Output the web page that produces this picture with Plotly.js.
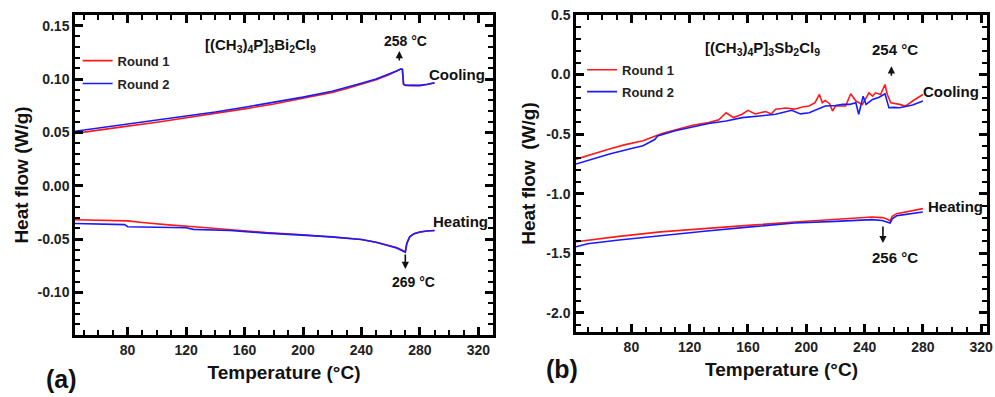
<!DOCTYPE html>
<html>
<head>
<meta charset="utf-8">
<script src="https://cdn.plot.ly/plotly-3.0.1.min.js"></script>
<style>html,body{margin:0;padding:0;background:#fff;}#chart{width:995px;height:397px;}</style>
</head>
<body>
<div id="chart"></div>
<script>
// ---------- Panel (a): [(CH3)4P]3Bi2Cl9 ----------
var aCoolT  = [44, 60, 80, 100, 120, 140, 160, 180, 200, 220, 230, 240, 250, 258, 264, 267, 268, 268.8, 270, 275, 280, 285, 290];
var aCoolR1 = [0.0490, 0.0522, 0.0558, 0.0594, 0.0634, 0.0675, 0.0720, 0.0766, 0.0817, 0.0873, 0.0910, 0.0952, 0.0993, 0.1035, 0.1072, 0.1093, 0.1088, 0.0950, 0.0940, 0.0938, 0.0938, 0.0948, 0.0963];
var aCoolR2 = [0.0510, 0.0540, 0.0575, 0.0610, 0.0650, 0.0690, 0.0735, 0.0780, 0.0830, 0.0885, 0.0920, 0.0960, 0.1000, 0.1040, 0.1075, 0.1095, 0.1090, 0.0950, 0.0942, 0.0940, 0.0940, 0.0950, 0.0965];
var aHeatT_R1 = [44, 60, 80, 90, 100, 110, 130, 150, 175, 200, 220, 240, 250, 258, 264, 268, 270, 271, 273, 276, 280, 285, 290];
var aHeatR1   = [-0.0320, -0.0325, -0.0330, -0.0345, -0.0360, -0.0370, -0.0390, -0.0415, -0.0440, -0.0460, -0.0480, -0.0505, -0.0530, -0.0555, -0.0580, -0.0605, -0.0620, -0.0540, -0.0480, -0.0450, -0.0435, -0.0425, -0.0420];
var aHeatT_R2 = [44, 60, 78, 80, 100, 120, 125, 150, 175, 200, 220, 240, 250, 258, 264, 268, 270, 271, 273, 276, 280, 285, 290];
var aHeatR2   = [-0.0355, -0.0360, -0.0365, -0.0385, -0.0390, -0.0395, -0.0410, -0.0420, -0.0445, -0.0465, -0.0480, -0.0505, -0.0530, -0.0560, -0.0585, -0.0610, -0.0625, -0.0545, -0.0480, -0.0450, -0.0435, -0.0425, -0.0420];
var aYTickVals = [0.15, 0.10, 0.05, 0.00, -0.05, -0.10];
var aYTickText = ["0.15", "0.10", "0.05", "0.00", "-0.05", "-0.10"];

// ---------- Panel (b): [(CH3)4P]3Sb2Cl9 ----------
var bCoolT_R1 = [42, 55, 65, 75, 88, 101, 110, 122, 133, 140, 145, 150, 156, 160, 165, 172, 176, 179, 186, 192, 198, 202, 206, 209, 211, 213, 216, 218, 220, 227, 230.5, 234, 238.5, 243, 245.5, 247.5, 251, 254, 255.6, 258, 264, 268, 273, 280];
var bCoolR1   = [-0.71, -0.66, -0.625, -0.59, -0.556, -0.495, -0.467, -0.425, -0.403, -0.38, -0.32, -0.36, -0.333, -0.30, -0.33, -0.31, -0.33, -0.29, -0.28, -0.29, -0.27, -0.264, -0.236, -0.167, -0.236, -0.217, -0.244, -0.306, -0.264, -0.264, -0.161, -0.222, -0.25, -0.153, -0.18, -0.153, -0.167, -0.083, -0.167, -0.236, -0.25, -0.264, -0.222, -0.167];
var bCoolT_R2 = [42, 55, 65, 80, 88, 96, 98, 110, 122, 133, 145, 156, 168, 179, 190, 196, 202, 208, 213, 220, 225, 230, 234, 236, 239, 241, 245.5, 250, 254, 256.7, 260, 264, 268, 273, 280];
var bCoolR2   = [-0.75, -0.70, -0.667, -0.62, -0.597, -0.545, -0.515, -0.472, -0.44, -0.41, -0.389, -0.361, -0.347, -0.333, -0.30, -0.33, -0.32, -0.29, -0.264, -0.26, -0.25, -0.25, -0.236, -0.333, -0.181, -0.25, -0.208, -0.19, -0.161, -0.278, -0.275, -0.278, -0.27, -0.256, -0.222];
var bHeatT  = [42, 50, 70, 100, 130, 160, 192, 220, 245, 252, 255, 257.5, 259, 262, 266, 270, 275, 280];
var bHeatR1 = [-1.403, -1.39, -1.36, -1.32, -1.29, -1.265, -1.237, -1.215, -1.195, -1.20, -1.21, -1.228, -1.19, -1.167, -1.158, -1.15, -1.138, -1.125];
var bHeatR2 = [-1.445, -1.42, -1.39, -1.35, -1.315, -1.28, -1.245, -1.232, -1.217, -1.225, -1.235, -1.245, -1.21, -1.185, -1.177, -1.17, -1.162, -1.153];
var bYTickVals = [0.5, 0.0, -0.5, -1.0, -1.5, -2.0];
var bYTickText = ["0.5", "0.0", "-0.5", "-1.0", "-1.5", "-2.0"];

var seriesNames = ["Round 1", "Round 2"];
var RED = "#ff1a1a", BLUE = "#1a1aff";
var FONT = "Liberation Sans, Arial, sans-serif";

function tr(x, y, idx, color, xa, ya, lg, show) {
  return {x: x, y: y, name: seriesNames[idx], type: "scatter", mode: "lines",
          line: {color: color, width: 1.6}, xaxis: xa, yaxis: ya,
          legend: lg, legendgroup: lg + "_" + idx, showlegend: show, hoverinfo: "skip"};
}
var data = [
  tr(aCoolT, aCoolR1, 0, RED, "x", "y", "legend", true),
  tr(aCoolT, aCoolR2, 1, BLUE, "x", "y", "legend", true),
  tr(aHeatT_R1, aHeatR1, 0, RED, "x", "y", "legend", false),
  tr(aHeatT_R2, aHeatR2, 1, BLUE, "x", "y", "legend", false),
  tr(bCoolT_R1, bCoolR1, 0, RED, "x2", "y2", "legend2", true),
  tr(bCoolT_R2, bCoolR2, 1, BLUE, "x2", "y2", "legend2", true),
  tr(bHeatT, bHeatR1, 0, RED, "x2", "y2", "legend2", false),
  tr(bHeatT, bHeatR2, 1, BLUE, "x2", "y2", "legend2", false)
];
function tickFont() { return {family: FONT, size: 14, color: "#222", weight: "bold"}; }
function titleFont() { return {family: FONT, size: 19, color: "#111", weight: "bold"}; }
function xAxis(domain, range, anchor) {
  return {domain: domain, range: range, anchor: anchor, tickmode: "linear", dtick: 40, tick0: 0,
    showline: true, linewidth: 2.5, linecolor: "#000", mirror: "allticks",
    ticks: "inside", ticklen: 8, tickwidth: 2.5, tickcolor: "#000",
    minor: {dtick: 10, ticks: "inside", ticklen: 5, tickwidth: 2, tickcolor: "#000"},
    showgrid: false, zeroline: false, tickfont: tickFont(),
    title: {text: "Temperature (°C)", font: titleFont(), standoff: 10}};
}
function yAxis(domain, range, anchor, tv, tt, minorD, titleText, so) {
  return {domain: domain, range: range, anchor: anchor,
    tickmode: "array", tickvals: tv, ticktext: tt,
    showline: true, linewidth: 2.5, linecolor: "#000", mirror: "allticks",
    ticks: "inside", ticklen: 8, tickwidth: 2.5, tickcolor: "#000",
    minor: {dtick: minorD, ticks: "inside", ticklen: 5, tickwidth: 2, tickcolor: "#000"},
    showgrid: false, zeroline: false, tickfont: tickFont(),
    title: {text: titleText, font: titleFont(), standoff: so}};
}
function note(text, x, y, xref, yref, size, bold) {
  return {text: text, x: x, y: y, xref: xref, yref: yref, showarrow: false,
          xanchor: "center", yanchor: "middle",
          font: {family: FONT, size: size, color: "#111", weight: bold ? "bold" : "normal"}};
}
function arrow(x, y, xref, yref, ay) {
  return {text: "", x: x, y: y, xref: xref, yref: yref, showarrow: true,
          ax: 0, ay: ay, arrowhead: 2, arrowsize: 0.9, arrowwidth: 1.6, arrowcolor: "#111", standoff: 0, startstandoff: 0};
}
var layout = {
  width: 995, height: 397,
  margin: {l: 0, r: 0, t: 0, b: 0},
  font: {family: FONT, color: "#111"},
  xaxis: xAxis([75/995, 493/995], [44, 330], "y"),
  yaxis: yAxis([62/397, 382/397], [-0.14, 0.16], "x", aYTickVals, aYTickText, 0.01, "Heat flow (W/g)", 4),
  xaxis2: xAxis([576/995, 987/995], [42, 324], "y2"),
  yaxis2: yAxis([65/397, 382/397], [-2.16, 0.5], "x2", bYTickVals, bYTickText, 0.1, "Heat flow\u00a0 (W/g)", 6),
  legend: {x: 0.078, y: 0.885, xanchor: "left", yanchor: "top", bgcolor: "rgba(0,0,0,0)",
           font: {family: FONT, size: 13, color: "#222", weight: "bold"}, tracegroupgap: 3},
  legend2: {x: 0.585, y: 0.862, xanchor: "left", yanchor: "top", bgcolor: "rgba(0,0,0,0)",
           font: {family: FONT, size: 13, color: "#222", weight: "bold"}, tracegroupgap: 2},
  annotations: [
    note("[(CH<sub>3</sub>)<sub>4</sub>P]<sub>3</sub>Bi<sub>2</sub>Cl<sub>9</sub>", 171, 0.131, "x", "y", 15, true),
    note("258 °C", 270, 0.136, "x", "y", 14, true),
    arrow(265.9, 0.1263, "x", "y", 11),
    note("Cooling", 305.6, 0.1038, "x", "y", 15, true),
    note("Heating", 307.7, -0.0338, "x", "y", 15, true),
    note("269 °C", 275.5, -0.0903, "x", "y", 14, true),
    arrow(270, -0.0781, "x", "y", -16),
    note("[(CH<sub>3</sub>)<sub>4</sub>P]<sub>3</sub>Sb<sub>2</sub>Cl<sub>9</sub>", 169.7, 0.222, "x2", "y2", 15, true),
    note("254 °C", 260.6, 0.208, "x2", "y2", 15, true),
    arrow(258.4, 0.069, "x2", "y2", 11),
    note("Cooling", 299.4, -0.145, "x2", "y2", 15, true),
    note("Heating", 302.5, -1.106, "x2", "y2", 15, true),
    note("256 °C", 260.6, -1.531, "x2", "y2", 15, true),
    arrow(252.6, -1.414, "x2", "y2", -18),
    note("(a)", 61/995, 1 - 379/397, "paper", "paper", 25, true),
    note("(b)", 562/995, 1 - 369/397, "paper", "paper", 25, true)
  ]
};
Plotly.newPlot("chart", data, layout, {displayModeBar: false});
</script>
</body>
</html>
